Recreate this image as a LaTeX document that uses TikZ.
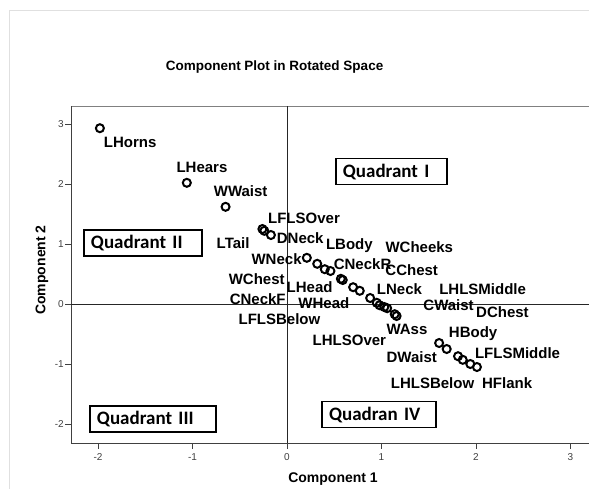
\documentclass[tikz,border=0pt]{standalone}
\usepackage{fontspec}
\setmainfont{Liberation Sans}
\newfontfamily\quadfont{Carlito}
\usetikzlibrary{calc}

\begin{document}
\begin{tikzpicture}[x=94.5pt, y=60pt,
        pt/.style={circle, draw, line width=2pt, minimum size=8pt, inner sep=0pt},
        lbl/.style={font=\fontsize{15}{17}\selectfont\bfseries, inner sep=0pt},
        quad/.style={draw, line width=1.7pt, font=\quadfont\fontsize{19}{21}\selectfont\bfseries,
            align=left, inner xsep=7pt, inner ysep=0pt, minimum height=26pt},
        ticklbl/.style={font=\fontsize{10}{12}\selectfont, text=black!75, inner sep=0pt}]
    \useasboundingbox (-3.037,-3.067) rectangle (3.196,5.067);
    % outer frame
    \draw[black!12, thin] (-2.942,-3.2) -- (-2.942,4.9) -- (3.3,4.9);
    % plot box and reference lines
    \draw[black!50, thin] (-2.286,3.3) -- (3.3,3.3);
    \draw[black!75, thin] (-2.286,3.3) -- (-2.286,-2.317) -- (3.3,-2.317);
    \draw[black!85, thin] (0,3.3) -- (0,-2.317);
    \draw[black!85, thin] (-2.286,0) -- (3.3,0);
    % ticks
    \draw[black!75, thin] (-2.286,3) -- ++(-6pt,0) node[ticklbl, anchor=east, xshift=-1pt] (y3) {3};
    \draw[black!75, thin] (-2.286,2) -- ++(-6pt,0) node[ticklbl, anchor=east, xshift=-1pt] (y2) {2};
    \draw[black!75, thin] (-2.286,1) -- ++(-6pt,0) node[ticklbl, anchor=east, xshift=-1pt] (y1) {1};
    \draw[black!75, thin] (-2.286,0) -- ++(-6pt,0) node[ticklbl, anchor=east, xshift=-1pt] (y0) {0};
    \draw[black!75, thin] (-2.286,-1) -- ++(-6pt,0) node[ticklbl, anchor=east, xshift=-1pt] (ym1) {-1};
    \draw[black!75, thin] (-2.286,-2) -- ++(-6pt,0) node[ticklbl, anchor=east, xshift=-1pt] (ym2) {-2};
    \draw[black!75, thin] (-2,-2.317) -- ++(0,-6pt) node[ticklbl, anchor=north, yshift=-4pt] (xm2) {-2};
    \draw[black!75, thin] (-1,-2.317) -- ++(0,-6pt) node[ticklbl, anchor=north, yshift=-4pt] (xm1) {-1};
    \draw[black!75, thin] (0,-2.317) -- ++(0,-6pt) node[ticklbl, anchor=north, yshift=-4pt] (x0) {0};
    \draw[black!75, thin] (1,-2.317) -- ++(0,-6pt) node[ticklbl, anchor=north, yshift=-4pt] (x1) {1};
    \draw[black!75, thin] (2,-2.317) -- ++(0,-6pt) node[ticklbl, anchor=north, yshift=-4pt] (x2) {2};
    \draw[black!75, thin] (3,-2.317) -- ++(0,-6pt) node[ticklbl, anchor=north, yshift=-4pt] (x3) {3};
    % titles
    \node[font=\fontsize{13.5}{15}\selectfont\bfseries] (title) at (-0.132,3.95) {Component Plot in Rotated Space};
    \node[font=\fontsize{14}{16}\selectfont\bfseries] (xtitle) at (0.487,-2.917) {Component 1};
    \node[font=\fontsize{14}{16}\selectfont\bfseries, rotate=90] (ytitle) at (-2.593,0.567) {Component 2};
    % quadrant boxes
    \node[quad, text width=97pt] (q1) at (1.105,2.208) {Quadrant I};
    \node[quad, text width=104pt] (q2) at (-1.524,1.017) {Quadrant II};
    \node[quad, text width=112pt] (q3) at (-1.418,-1.917) {Quadrant III};
    \node[quad, text width=100pt] (q4) at (0.974,-1.842) {Quadran IV};
    % points
    \node[pt] (LHorns) at (-1.98,2.93) {};
    \node[pt] (LHears) at (-1.06,2.02) {};
    \node[pt] (WWaist) at (-0.65,1.62) {};
    \node[pt] (LFLSOver) at (-0.26,1.25) {};
    \node[pt] (LTail) at (-0.24,1.22) {};
    \node[pt] (DNeck) at (-0.17,1.15) {};
    \node[pt] (WNeck) at (0.21,0.77) {};
    \node[pt] (WChest) at (0.32,0.67) {};
    \node[pt] (CNeckF) at (0.40,0.58) {};
    \node[pt] (LBody) at (0.46,0.55) {};
    \node[pt] (LHead) at (0.57,0.42) {};
    \node[pt] (LFLSBelow) at (0.59,0.40) {};
    \node[pt] (CNeckR) at (0.70,0.28) {};
    \node[pt] (WHead) at (0.77,0.22) {};
    \node[pt] (WCheeks) at (0.88,0.10) {};
    \node[pt] (CChest) at (0.95,0.02) {};
    \node[pt] (LNeck) at (0.98,-0.02) {};
    \node[pt] (LHLSOver) at (1.03,-0.05) {};
    \node[pt] (CWaist) at (1.06,-0.07) {};
    \node[pt] (WAss) at (1.14,-0.17) {};
    \node[pt] (LHLSMiddle) at (1.16,-0.20) {};
    \node[pt] (HBody) at (1.61,-0.65) {};
    \node[pt] (DWaist) at (1.69,-0.75) {};
    \node[pt] (DChest) at (1.81,-0.87) {};
    \node[pt] (LFLSMiddle) at (1.86,-0.93) {};
    \node[pt] (LHLSBelow) at (1.94,-1.00) {};
    \node[pt] (HFlank) at (2.01,-1.05) {};
    % point labels
    \node[lbl] (LHorns-t) at (-1.66,2.70) {LHorns};
    \node[lbl] (LHears-t) at (-0.90,2.28) {LHears};
    \node[lbl] (WWaist-t) at (-0.49,1.88) {WWaist};
    \node[lbl] (LFLSOver-t) at (0.18,1.43) {LFLSOver};
    \node[lbl] (LTail-t) at (-0.57,1.02) {LTail};
    \node[lbl] (DNeck-t) at (0.14,1.10) {DNeck};
    \node[lbl] (WNeck-t) at (-0.11,0.75) {WNeck};
    \node[lbl] (LBody-t) at (0.66,0.98) {LBody};
    \node[lbl] (WCheeks-t) at (1.40,0.95) {WCheeks};
    \node[lbl] (CNeckR-t) at (0.80,0.67) {CNeckR};
    \node[lbl] (CChest-t) at (1.32,0.57) {CChest};
    \node[lbl] (WChest-t) at (-0.32,0.42) {WChest};
    \node[lbl] (LHead-t) at (0.24,0.28) {LHead};
    \node[lbl] (CNeckF-t) at (-0.31,0.08) {CNeckF};
    \node[lbl] (WHead-t) at (0.39,0.02) {WHead};
    \node[lbl] (LNeck-t) at (1.19,0.25) {LNeck};
    \node[lbl] (LHLSMiddle-t) at (2.07,0.25) {LHLSMiddle};
    \node[lbl] (CWaist-t) at (1.71,-0.02) {CWaist};
    \node[lbl] (DChest-t) at (2.28,-0.13) {DChest};
    \node[lbl] (LFLSBelow-t) at (-0.08,-0.25) {LFLSBelow};
    \node[lbl] (LHLSOver-t) at (0.66,-0.60) {LHLSOver};
    \node[lbl] (WAss-t) at (1.27,-0.43) {WAss};
    \node[lbl] (HBody-t) at (1.97,-0.50) {HBody};
    \node[lbl] (DWaist-t) at (1.32,-0.88) {DWaist};
    \node[lbl] (LFLSMiddle-t) at (2.44,-0.82) {LFLSMiddle};
    \node[lbl] (LHLSBelow-t) at (1.54,-1.32) {LHLSBelow};
    \node[lbl] (HFlank-t) at (2.33,-1.32) {HFlank};
\end{tikzpicture}
\end{document}
